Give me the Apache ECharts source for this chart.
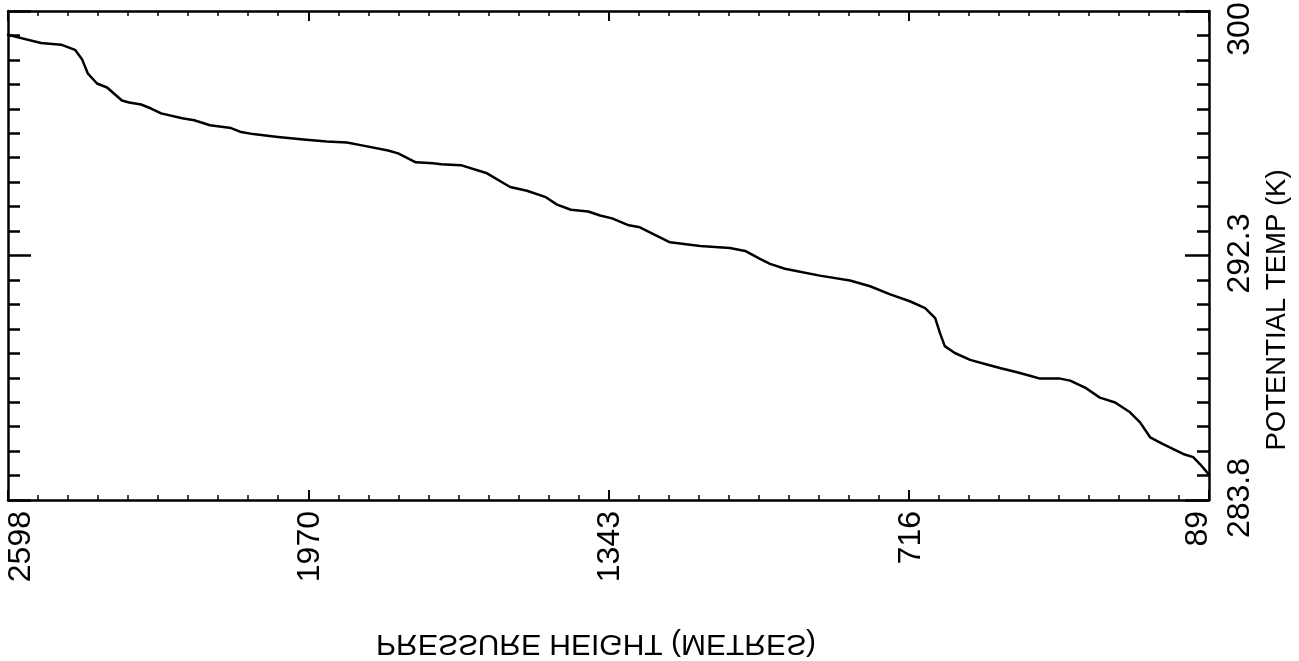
<!DOCTYPE html>
<html>
<head>
<meta charset="utf-8">
<script src="https://cdn.jsdelivr.net/npm/echarts@6/dist/echarts.min.js"></script>
<style>
html,body{margin:0;padding:0;background:#ffffff;}
#chart{width:1299px;height:661px;}
</style>
</head>
<body>
<div id="chart"></div>
<script>
// ---- data ----
const heights = [2598, 2529, 2487, 2458, 2443, 2431, 2412, 2391, 2360, 2345, 2320, 2299, 2278, 2234, 2209, 2176, 2132, 2111, 2086, 2034, 1975, 1932, 1890, 1856, 1804, 1783, 1746, 1710, 1693, 1652, 1599, 1549, 1514, 1476, 1451, 1422, 1386, 1361, 1336, 1301, 1278, 1236, 1215, 1152, 1090, 1058, 1027, 1006, 975, 954, 902, 839, 797, 755, 714, 682, 661, 651, 641, 620, 588, 557, 526, 494, 463, 442, 400, 379, 348, 317, 285, 254, 233, 212, 185, 143, 122, 108, 97, 89];
const temps = [299.97, 299.69, 299.63, 299.45, 299.11, 298.62, 298.28, 298.14, 297.69, 297.62, 297.55, 297.41, 297.24, 297.07, 297.00, 296.83, 296.73, 296.59, 296.52, 296.42, 296.32, 296.26, 296.23, 296.12, 295.95, 295.85, 295.54, 295.51, 295.47, 295.44, 295.17, 294.68, 294.55, 294.34, 294.07, 293.89, 293.83, 293.69, 293.59, 293.35, 293.28, 292.93, 292.76, 292.63, 292.56, 292.46, 292.18, 292.01, 291.84, 291.77, 291.60, 291.43, 291.23, 290.95, 290.71, 290.47, 290.12, 289.60, 289.15, 288.91, 288.67, 288.53, 288.39, 288.26, 288.12, 288.02, 288.02, 287.95, 287.71, 287.36, 287.19, 286.85, 286.50, 285.98, 285.74, 285.40, 285.29, 285.05, 284.84, 284.67];
const xTickLabels = ['2598', '1970', '1343', '716', '89'];
const yTickLabels = ['283.8', '292.3', '300'];
const xRange = [89, 2598];
const yRange = [283.8, 300.8];
const xTitle = 'PRESSURE HEIGHT (METRES)';
const yTitle = 'POTENTIAL TEMP (K)';

// ---- chart ----
const FONT = 'Liberation Sans, Arial, Helvetica, sans-serif';
const chart = echarts.init(document.getElementById('chart'), null, {renderer: 'canvas'});
const points = heights.map((h, i) => [h, temps[i]]);

function decorAxis(pos, nMajor, majorLen, minorLen, majorW, minorW, label) {
  return {
    type: 'value', position: pos, min: 0, max: nMajor, interval: 1,
    axisLine: {show: true, onZero: false, lineStyle: {color: '#000', width: 2.5}},
    axisTick: {show: true, inside: true, length: majorLen, lineStyle: {color: '#000', width: majorW}},
    minorTick: {show: true, splitNumber: 10, length: minorLen, lineStyle: {color: '#000', width: minorW}},
    splitLine: {show: false}, minorSplitLine: {show: false},
    axisLabel: label || {show: false}
  };
}

const xLabel = {
  show: true, rotate: 90, margin: 11, color: '#000', fontSize: 32, fontFamily: FONT,
  formatter: function (v) {
    const i = Math.round(v);
    const t = xTickLabels[i];
    if (i === 0) return '{s|' + t + '}';
    if (i === xTickLabels.length - 1) return '{e|' + t + '}';
    return '{m|' + t + '}';
  },
  rich: {
    s: {fontSize: 32, fontFamily: FONT, color: '#000', padding: [26, 0, 0, 0]},
    e: {fontSize: 32, fontFamily: FONT, color: '#000', padding: [0, 0, 22, 0]},
    m: {fontSize: 32, fontFamily: FONT, color: '#000', padding: [4, 0, 0, 0]}
  }
};
const yLabel = {
  show: true, rotate: 90, margin: 15, color: '#000', fontSize: 32, fontFamily: FONT,
  formatter: function (v) {
    const i = Math.round(v);
    const t = yTickLabels[i];
    if (i === yTickLabels.length - 1) return '{t|' + t + '}';
    return '{m|' + t + '}';
  },
  rich: {
    t: {fontSize: 32, fontFamily: FONT, color: '#000', padding: [0, 36, 0, 0]},
    m: {fontSize: 32, fontFamily: FONT, color: '#000', padding: [0, 0, 0, 4]}
  }
};

const option = {
  backgroundColor: '#ffffff',
  animation: false,
  grid: {left: 8, top: 11, width: 1201, height: 489, containLabel: false, outerBoundsMode: 'none'},
  xAxis: [
    {type: 'value', min: xRange[0], max: xRange[1], inverse: true, show: false, position: 'bottom'},
    decorAxis('bottom', xTickLabels.length - 1, 10, 5, 2, 1.5, xLabel),
    decorAxis('top', xTickLabels.length - 1, 10, 5, 2, 1.5, null)
  ],
  yAxis: [
    {type: 'value', min: yRange[0], max: yRange[1], show: false, position: 'left'},
    decorAxis('left', yTickLabels.length - 1, 23, 12, 2.5, 2.5, null),
    decorAxis('right', yTickLabels.length - 1, 24, 12, 2.5, 2.5, yLabel)
  ],
  graphic: [
    {type: 'text', x: 596, y: 643, scaleY: -1, silent: true,
     style: {text: xTitle, fill: '#000', fontSize: 30, fontFamily: FONT, align: 'center', verticalAlign: 'middle'}},
    {type: 'text', x: 1277, y: 310, rotation: Math.PI / 2, silent: true,
     style: {text: yTitle, fill: '#000', fontSize: 27.5, fontFamily: FONT, align: 'center', verticalAlign: 'middle'}}
  ],
  series: [{
    type: 'line', xAxisIndex: 0, yAxisIndex: 0, data: points,
    showSymbol: false, symbol: 'none', smooth: false,
    lineStyle: {color: '#000', width: 2.5, join: 'round', cap: 'round'}, clip: true
  }]
};
chart.setOption(option);
</script>
</body>
</html>
